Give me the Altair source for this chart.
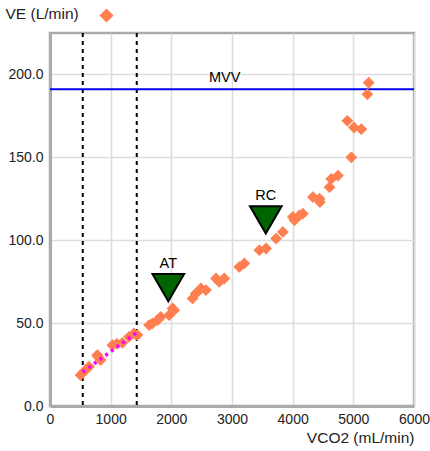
import altair as alt
import pandas as pd

# ---- data ----
vco2 = [504, 587, 642, 780, 790, 835, 1028, 1100, 1193, 1303, 1386, 1441,
        1634, 1689, 1772, 1826, 1964, 2020, 2046, 2350, 2405, 2488, 2570,
        2736, 2790, 2873, 3121, 3203, 3451, 3562, 3727, 3838, 4003, 4030,
        4112, 4168, 4334, 4443, 4450, 4608, 4636, 4747, 4967, 4901, 5011,
        5132, 5231, 5253]
ve = [18.7, 21.7, 23.7, 30.7, 29.7, 27.7, 36.7, 37.5, 38.1, 41.7, 43.8, 42.8,
      48.8, 49.8, 51.8, 53.8, 54.8, 58.8, 57.8, 64.9, 67.9, 70.9, 69.9,
      76.9, 74.9, 76.9, 83.9, 86.0, 94.0, 95.0, 101.0, 105.0, 114.0, 112.0,
      115.0, 116.0, 126.0, 125.0, 123.0, 132.0, 137.0, 139.0, 150.0, 172.0, 168.0,
      167.0, 188.0, 195.0]

fit_x = [540, 1430]
fit_y = [20.5, 44.3]

thresh_x = [540, 1430]

marker_names = ["AT", "RC"]
marker_x = [1950, 3557]
marker_y = [71.4, 112.3]

mvv_value = 191
mvv_label_x = 2880

FONT = "Liberation Sans"

pts = pd.DataFrame({"VCO2": vco2, "VE": ve, "series": ["VE (L/min)"] * len(vco2)})
fit = pd.DataFrame({"VCO2": fit_x, "VE": fit_y})
th = pd.DataFrame({"VCO2": thresh_x})
mk = pd.DataFrame({"VCO2": marker_x, "VE": marker_y, "name": marker_names})
mvv = pd.DataFrame({"VE": [mvv_value], "VCO2": [mvv_label_x], "name": ["MVV"]})

xscale = alt.Scale(domain=[0, 6000], nice=False, zero=True)
yscale = alt.Scale(domain=[0, 225], nice=False)

xaxis = alt.Axis(values=[0, 1000, 2000, 3000, 4000, 5000, 6000], format="d",
                 title="VCO2 (mL/min)", titleAngle=0, titleAlign="right",
                 titleX=364, titleY=31, titleBaseline="middle",
                 ticks=False, labelPadding=6, labelFlush=False)
yaxis = alt.Axis(values=[0, 50, 100, 150, 200], format=".1f",
                 title="VE (L/min)", titleAngle=0, titleAlign="left",
                 titleX=-45, titleY=-20, titleBaseline="middle",
                 ticks=False, labelPadding=7, labelFlush=False)

base_x = alt.X("VCO2:Q", scale=xscale, axis=xaxis)
base_y = alt.Y("VE:Q", scale=yscale, axis=yaxis)

points = alt.Chart(pts).mark_point(shape="diamond", filled=True, opacity=1, size=140).encode(
    x=base_x, y=base_y,
    color=alt.Color("series:N", scale=alt.Scale(range=["#FF7F50"]),
                    legend=alt.Legend(orient="none", legendX=49, legendY=-25,
                                      title=None, labelExpr="''",
                                      symbolType="diamond", symbolSize=200,
                                      symbolStrokeWidth=0, symbolOpacity=1)),
)

thresh = alt.Chart(th).mark_rule(color="black", strokeWidth=2, strokeDash=[4, 4]).encode(
    x=alt.X("VCO2:Q", scale=xscale)
)

mvv_rule = alt.Chart(mvv).mark_rule(color="#0000EE", strokeWidth=2).encode(
    y=alt.Y("VE:Q", scale=yscale)
)
mvv_text = alt.Chart(mvv).mark_text(font=FONT, fontSize=14.5, dy=-11, baseline="middle",
                                    color="black").encode(
    x=alt.X("VCO2:Q", scale=xscale), y=alt.Y("VE:Q", scale=yscale), text="name:N"
)

fit_line = alt.Chart(fit).mark_line(color="#FF00FF", strokeWidth=3.5, strokeDash=[3, 4]).encode(
    x=alt.X("VCO2:Q", scale=xscale), y=alt.Y("VE:Q", scale=yscale)
)

tri = alt.Chart(mk).mark_point(shape="triangle-down", filled=True, size=1000,
                               fill="#006400", stroke="black", strokeWidth=2,
                               opacity=1).encode(
    x=alt.X("VCO2:Q", scale=xscale), y=alt.Y("VE:Q", scale=yscale)
)
tri_text = alt.Chart(mk).mark_text(font=FONT, fontSize=14.5, dy=-24, baseline="middle",
                                   color="black").encode(
    x=alt.X("VCO2:Q", scale=xscale), y=alt.Y("VE:Q", scale=yscale), text="name:N"
)

chart = alt.layer(thresh, mvv_rule, mvv_text, points, fit_line, tri, tri_text).properties(
    width=364, height=373,
    autosize=alt.AutoSizeParams(type="none"),
    padding={"left": 50, "top": 33, "right": 16, "bottom": 45},
).configure_view(
    stroke="#aaaaaa", strokeWidth=2.5
).configure_axis(
    grid=True, gridColor="#dddddd", gridWidth=1.6,
    domainColor="#aaaaaa", domainWidth=3,
    labelFont=FONT, labelFontSize=14, labelColor="#222222",
    titleFont=FONT, titleFontSize=15.5, titleFontWeight="normal", titleColor="#222222",
)

chart.save("out.html", embed_options={"renderer": "svg", "actions": False})
